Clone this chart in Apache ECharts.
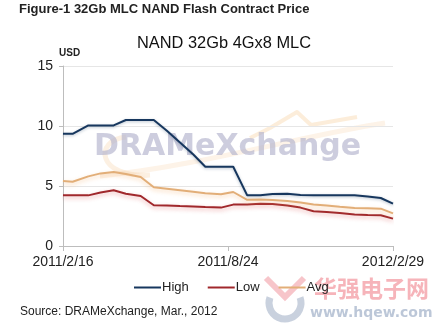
<!DOCTYPE html>
<html>
<head>
<meta charset="utf-8">
<script src="https://cdn.jsdelivr.net/npm/echarts@6/dist/echarts.min.js"></script>
<style>
html,body{margin:0;padding:0;background:#fff;}
#c{width:438px;height:329px;}
</style>
</head>
<body>
<div id="c"></div>
<script>
// ---- data ----
const dates = ['2011/2/16','2011/2/27','2011/3/17','2011/3/31','2011/4/15','2011/4/29','2011/5/16','2011/5/31',
  '2011/6/15','2011/6/30','2011/7/15','2011/7/29','2011/8/16','2011/8/30','2011/9/15','2011/9/30',
  '2011/10/14','2011/10/31','2011/11/15','2011/11/30','2011/12/15','2011/12/30','2012/1/16','2012/1/31',
  '2012/2/15','2012/2/29'];
const high = [9.35,9.35,10.05,10.05,10.05,10.5,10.5,10.5,9.6,8.63,7.65,6.6,6.6,6.6,4.22,4.22,4.33,4.36,4.25,4.22,4.22,4.22,4.22,4.12,4.0,3.53];
const low  = [4.22,4.22,4.22,4.45,4.64,4.36,4.17,3.4,3.37,3.33,3.3,3.25,3.2,3.45,3.45,3.53,3.5,3.38,3.2,2.9,2.83,2.75,2.62,2.58,2.56,2.28];
const avg  = [5.42,5.35,5.8,6.05,6.17,6.0,5.75,4.9,4.78,4.65,4.52,4.4,4.31,4.5,3.85,3.87,3.83,3.75,3.62,3.45,3.38,3.28,3.17,3.14,3.11,2.72];
const xTickLabels = ['2011/2/16','2011/8/24','2012/2/29'];
const yTicks = [0,5,10,15];

const FONT = "'Liberation Sans', Arial, sans-serif";
function dayNo(s){const p=s.split('/').map(Number);return Date.UTC(p[0],p[1]-1,p[2])/86400000;}
const base = dayNo(xTickLabels[0]);
const span = dayNo(xTickLabels[1]) - base;
const xEnd = dayNo(xTickLabels[2]) - base;
const xs = dates.map(d => dayNo(d) - base);
const pairs = arr => arr.map((v,i)=>[xs[i], v]);

const chart = echarts.init(document.getElementById('c'), null, {renderer:'canvas'});
chart.setOption({
  animation:false,
  backgroundColor:'#fff',
  title:[
    {text:'Figure-1 32Gb MLC NAND Flash Contract Price', left:19, top:3, padding:0,
     textStyle:{fontFamily:FONT, fontWeight:'bold', fontSize:13, color:'#222'}},
    {text:'NAND 32Gb 4Gx8 MLC', left:137, top:35, padding:0,
     textStyle:{fontFamily:FONT, fontWeight:'normal', fontSize:16.4, color:'#111'}}
  ],
  grid:{left:63, right:45, top:66, bottom:83, containLabel:false},
  legend:{
    data:['High','Low','Avg'], left:129, top:276, z:10,
    icon:'rect', itemWidth:27, itemHeight:2, itemGap:19,
    textStyle:{fontFamily:FONT, fontSize:13, color:'#222', padding:[0,0,0,-4]}
  },
  xAxis:{
    type:'value', min:0, max:xEnd, interval:span,
    axisLine:{show:true, lineStyle:{color:'#BDBDBD', width:1}},
    axisTick:{show:true, length:5, lineStyle:{color:'#BDBDBD'}},
    splitLine:{show:false},
    axisLabel:{margin:9, fontFamily:FONT, fontSize:14, color:'#222',
      formatter:v=>xTickLabels[Math.round(v/span)] || ''}
  },
  yAxis:{
    type:'value', min:yTicks[0], max:yTicks[yTicks.length-1], interval:yTicks[1]-yTicks[0],
    axisLine:{show:true, lineStyle:{color:'#BDBDBD', width:1}},
    axisTick:{show:true, length:4, lineStyle:{color:'#BDBDBD'}},
    splitLine:{show:true, lineStyle:{color:'#E6E6E6', width:1}},
    axisLabel:{margin:10, fontFamily:FONT, fontSize:14, color:'#222'}
  },
  graphic:[
    {type:'text', left:59, top:48, z:10,
     style:{text:'USD', fill:'#222', font:"bold 10px "+FONT}},
    {type:'text', left:20, top:306, z:10,
     style:{text:'Source: DRAMeXchange, Mar., 2012', fill:'#222', font:"12px "+FONT}},
    // DRAMeXchange watermark: swooshes + text
    {type:'bezierCurve', z:0, silent:true,
     shape:{x1:126, y1:137, cpx1:94, cpy1:140, cpx2:96, cpy2:178, x2:150, y2:175},
     style:{stroke:'rgba(245,195,140,0.25)', lineWidth:5, fill:null}},
    {type:'bezierCurve', z:0, silent:true,
     shape:{x1:100, y1:176, cpx1:200, cpy1:166, cpx2:300, cpy2:136, x2:385, y2:123},
     style:{stroke:'rgba(245,195,140,0.2)', lineWidth:5, fill:null}},
    {type:'polyline', z:0, silent:true,
     shape:{points:[[250,138],[270,128],[297,112],[311,125],[357,117]]},
     style:{stroke:'rgba(245,200,140,0.32)', lineWidth:4, fill:null, lineJoin:'round'}},
    {type:'text', left:94, top:132, z:1, silent:true,
     style:{text:'DRAMeXchange', fill:'rgba(178,178,205,0.65)', font:"bold 30px 'DejaVu Sans', Verdana, sans-serif"}},
    // hqew watermark
    {type:'arc', z:0, silent:true, shape:{cx:285, cy:303, r:16, startAngle:-0.35, endAngle:Math.PI+0.35, clockwise:true},
     style:{stroke:'rgba(165,178,200,0.6)', lineWidth:7, fill:null}},
    {type:'polyline', z:0, silent:true, shape:{points:[[266,278],[285,297],[304,278]]},
     style:{stroke:'rgba(240,140,150,0.5)', lineWidth:6, fill:null}},
    {type:'text', left:314, top:277, z:1, silent:true,
     style:{text:'华强电子网', fill:'rgba(240,130,140,0.6)', font:"bold 23px 'Noto Sans CJK SC', sans-serif"}},
    {type:'text', left:310, top:306, z:1, silent:true,
     style:{text:'www.hqew.com', fill:'rgba(160,175,200,0.7)', font:"bold 14px 'DejaVu Sans', sans-serif"}}
  ],
  series:[
    {name:'High', type:'line', data:pairs(high), symbol:'none', z:5,
     lineStyle:{color:'#17375E', width:2, shadowColor:'rgba(23,55,94,0.3)', shadowBlur:3, shadowOffsetY:1},
     itemStyle:{color:'#17375E'}},
    {name:'Low', type:'line', data:pairs(low), symbol:'none', z:5,
     lineStyle:{color:'#A0282C', width:2, shadowColor:'rgba(220,90,90,0.45)', shadowBlur:4, shadowOffsetY:2},
     itemStyle:{color:'#A0282C'}},
    {name:'Avg', type:'line', data:pairs(avg), symbol:'none', z:5,
     lineStyle:{color:'#E2AE78', width:2, shadowColor:'rgba(245,170,100,0.45)', shadowBlur:4, shadowOffsetY:2},
     itemStyle:{color:'#E2AE78'}}
  ]
});
</script>
</body>
</html>
